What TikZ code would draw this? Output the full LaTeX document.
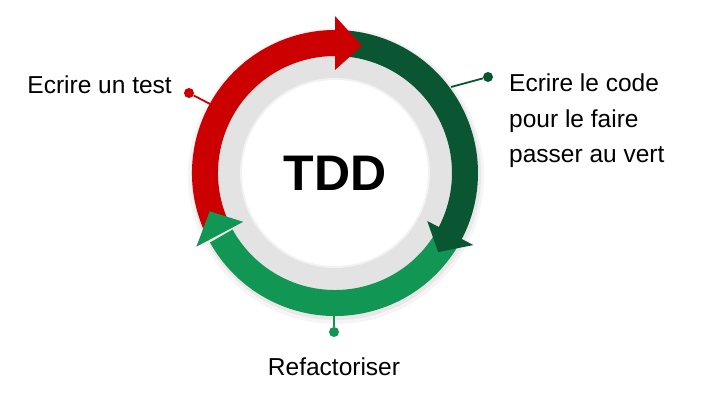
\documentclass[tikz,border=0pt]{standalone}
\usepackage{fontspec}
\setmainfont{Liberation Sans}
\definecolor{tddred}{RGB}{204,0,0}
\definecolor{tdddark}{RGB}{10,86,50}
\definecolor{tddgreen}{RGB}{17,150,84}
\definecolor{tddgray}{RGB}{227,227,227}

\begin{document}
\begin{tikzpicture}[x=1pt,y=1pt,
  ring/.style={line width=26pt},
  dot/.style={circle,fill,inner sep=0pt,minimum size=10pt},
  pin/.style={line width=1.8pt},
  txt/.style={font=\fontsize{24.5}{35.5}\selectfont,align=left,inner sep=0pt}]
  \useasboundingbox (0,0) rectangle (705,405);
  \coordinate (C) at (335,232);
  \begin{scope}[shift={(C)}]
    \fill[black!4] (1,-3) circle (148);
    \fill[black!9] (1,-2) circle (145);
    \fill[tddgray] (0,0) circle (118);
    \fill[black!5] (0,0) circle (95);
    \fill[white] (0,0) circle (93);
    \draw[ring,tddred] (205:130) arc (205:89:130);
    \draw[ring,tdddark] (86:130) arc (86:-28:130);
    \draw[ring,tddgreen] (-31:130) arc (-31:-151:130);
    \fill[tddred] (90:103)--(90:157)--(78:130)--cycle;
    \fill[tdddark] (-27.5:104)--(-27.5:156)--(-37.5:130)--cycle;
    \fill[tddgreen] (208:104)--(208:157)--(197:131)--cycle;
  \end{scope}
  \node[font=\fontsize{50}{60}\selectfont\bfseries] (tdd) at (C) {TDD};
  % pins
  \node[dot,tddred] (p1) at (189,312) {};
  \coordinate (q1) at (210,301);
  \draw[pin,tddred] (q1) -- (p1);
  \node[dot,tdddark] (p2) at (488,328) {};
  \coordinate (q2) at (451,318);
  \draw[pin,tdddark] (q2) -- (p2);
  \node[dot,tddgreen] (p3) at (334,73) {};
  \coordinate (q3) at (334,94);
  \draw[pin,tddgreen] (q3) -- (p3);
  % labels
  \node[txt,anchor=east] (t1) at (172,320) {Ecrire un test};
  \node[txt,anchor=west] (t2) at (509,284) {Ecrire le code\\pour le faire\\passer au vert};
  \node[txt] (t3) at (334,38) {Refactoriser};
\end{tikzpicture}
\end{document}
